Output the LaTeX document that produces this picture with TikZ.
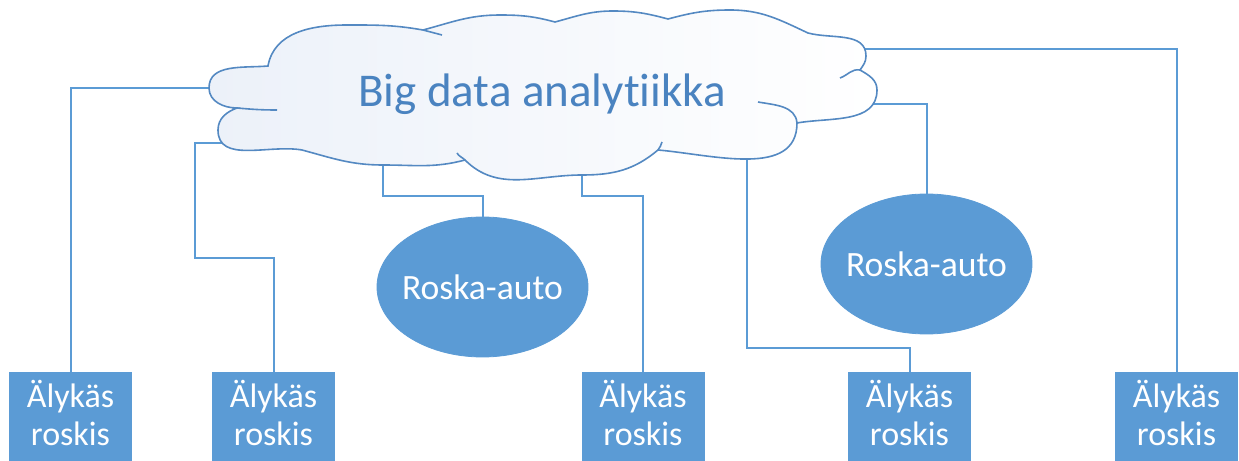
\documentclass[tikz,border=0pt]{standalone}
\usepackage{fontspec}
\setmainfont{Carlito}[Ligatures=NoCommon]
\usetikzlibrary{shapes.geometric}
\definecolor{officeblue}{RGB}{91,155,213}
\definecolor{cloudline}{RGB}{84,137,194}
\definecolor{cloudtext}{RGB}{74,131,192}
\definecolor{cloudtint}{RGB}{236,241,249}
\begin{document}
\begin{tikzpicture}[x=0.5pt,y=0.5pt,
		bin/.style={draw=officeblue,fill=officeblue,text=white,anchor=north,minimum width=61pt,minimum height=48pt,inner sep=0pt,align=center,font=\fontsize{17}{19}\selectfont},
		truck/.style={ellipse,draw=officeblue,fill=officeblue,text=white,minimum width=105.5pt,minimum height=70pt,inner ysep=0pt,inner xsep=-8pt,font=\fontsize{17.8}{20}\selectfont},
		link/.style={draw=officeblue,line width=1pt},
		puff/.style={draw=cloudline,line width=0.8pt}]
		\useasboundingbox (0,0) rectangle (1239,461);
		\clip (0,0) rectangle (1239,461);
		% bins and trucks
		\node[bin] (bin1) at (70.5,89) {Älykäs\\roskis\rule[-8pt]{0pt}{0pt}};
		\node[bin] (bin2) at (273.5,89) {Älykäs\\roskis\rule[-8pt]{0pt}{0pt}};
		\node[bin] (bin3) at (643,89) {Älykäs\\roskis\rule[-8pt]{0pt}{0pt}};
		\node[bin] (bin4) at (909.5,89) {Älykäs\\roskis\rule[-8pt]{0pt}{0pt}};
		\node[bin] (bin5) at (1176.5,89) {Älykäs\\roskis\rule[-8pt]{0pt}{0pt}};
		\node[truck] (truck1) at (482.5,174) {Roska-auto};
		\node[truck] (truck2) at (926.5,197) {Roska-auto};
		% where the links meet the cloud
		\coordinate (ca) at (209,373);
		\coordinate (cb) at (228,318);
		\coordinate (cc) at (383,296);
		\coordinate (cd) at (582,286);
		\coordinate (ce) at (747,311);
		\coordinate (cf) at (870,357);
		\coordinate (cg) at (864,412);
		\draw[link] (bin1.north) |- (ca);
		\draw[link] (bin2.north) -- ++(0,114) -| ([xshift=-16.5pt]cb) -- (cb);
		\draw[link] (truck1.north) -- ++(0,21) -| (cc);
		\draw[link] (cd) -- ++(0,-21) -| (bin3.north);
		\draw[link] (ce) |- ([yshift=12pt]bin4.north) -- (bin4.north);
		\draw[link] (cf) -| (truck2.north);
		\draw[link] (cg) -| (bin5.north);
		% cloud
		\draw[puff,left color=cloudtint,right color=white] (268,395) to[out=185,in=90] (209,373) to[out=270,in=180] (237,353)
			to[out=200,in=90] (218,331) to[out=270,in=170] (302,311)
			to[out=-15,in=180] (383,296) to[out=0,in=195] (465,301)
			to[out=-45,in=180] (582,286) to[out=0,in=220] (658,311)
			to[out=-5,in=270] (797,338)
			to[out=10,in=270] (877,371) to[out=90,in=-30] (860,391)
			to[out=55,in=270] (866,405) to[out=90,in=-15] (808,428)
			to[out=155,in=0] (730,451) to[out=180,in=15] (668,442)
			to[out=165,in=0] (613,450) to[out=180,in=15] (555,439)
			to[out=165,in=0] (500,446) to[out=180,in=15] (423,431)
			to[out=170,in=0] (347,436) to[out=180,in=80] (268,395) -- cycle;
		\draw[puff] (423,431) to[out=-15,in=165] (442,426);
		\draw[puff] (237,353) to[out=-5,in=180] (277,351);
		\draw[puff] (465,301) to[out=135,in=-60] (457,308);
		\draw[puff] (658,311) to[out=60,in=-100] (662,319);
		\draw[puff] (797,338) to[out=95,in=-10] (758,359);
		\draw[puff] (860,391) to[out=170,in=20] (840,383);
		\node[anchor=base,text=cloudtext,font=\fontsize{23.5}{28}\selectfont] (title) at (542,354) {Big data analytiikka};
	\end{tikzpicture}
\end{document}
